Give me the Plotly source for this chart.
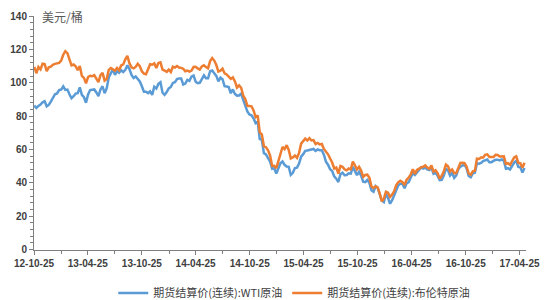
import pandas as pd
import plotly.graph_objects as go

# Weekly (Friday) settlement prices, USD/barrel
wti_2012 = [86.3, 84.9, 86.1, 86.9, 88.3, 88.9, 85.9, 86.7, 88.7, 90.8]
wti_2013 = [93.1, 93.6, 95.6, 95.9, 97.8, 95.7, 95.9, 93.1, 90.7, 91.9, 93.5, 93.7, 97.2,
            92.7, 91.3, 88.0, 93.0, 95.6, 96.0, 96.0, 94.2, 92.0, 96.0, 97.9, 93.7, 96.6,
            103.2, 105.9, 108.1, 104.7, 106.9, 106.0, 107.5, 106.4, 107.7, 110.5, 108.2, 104.7, 102.9,
            103.8, 102.0, 100.8, 97.9, 94.6, 94.6, 93.8, 94.8, 92.7, 97.6, 96.6, 99.3, 100.3]
wti_2014 = [94.0, 92.7, 94.4, 96.6, 97.5, 99.9, 100.3, 102.2, 102.6, 102.6, 98.9, 99.5, 101.7,
            101.1, 103.7, 104.3, 100.6, 99.8, 100.0, 102.0, 104.4, 102.7, 102.7, 106.9, 107.3, 105.7,
            104.1, 100.8, 103.1, 102.1, 97.9, 97.7, 97.4, 93.7, 96.0, 93.3, 92.3, 92.4, 93.5,
            89.7, 85.8, 82.8, 81.0, 80.5, 78.7, 75.8, 76.5, 66.2, 65.8, 57.8, 57.1, 54.7]
wti_2015 = [52.7, 48.4, 48.7, 45.6, 48.2, 51.7, 52.8, 50.8, 49.8, 49.6, 44.8, 46.0, 48.9,
            49.1, 51.6, 55.7, 57.2, 59.2, 59.4, 59.7, 59.7, 60.3, 59.1, 60.0, 59.6, 59.6,
            56.9, 52.7, 50.9, 48.1, 47.1, 43.9, 42.5, 40.5, 45.2, 46.1, 44.6, 44.7, 45.7,
            45.5, 49.6, 47.3, 44.6, 46.6, 44.3, 40.7, 40.4, 41.7, 40.0, 35.6, 34.7, 38.1]
wti_2016 = [37.0, 33.2, 29.4, 28.5, 33.6, 30.9, 27.5, 29.6, 32.8, 35.9, 38.5, 39.4, 39.5,
            36.8, 39.7, 40.4, 43.7, 45.9, 44.7, 46.2, 47.8, 49.3, 48.6, 49.1, 48.0, 47.6,
            49.0, 45.4, 46.0, 44.2, 41.6, 41.8, 44.5, 48.5, 47.6, 44.4, 45.9, 43.0, 44.5, 48.2,
            49.8, 50.4, 50.9, 48.7, 44.1, 43.4, 45.7, 46.1, 51.7, 51.5, 51.9, 53.0, 53.7]
wti_2017 = [54.0, 52.4, 52.4, 53.2, 53.8, 53.9, 53.4, 54.0, 53.3, 48.5, 48.8, 48.0, 50.6,
            52.2, 53.2, 49.6, 49.3, 46.2, 48.9]

brent_2012 = [109.5, 105.7, 109.4, 108.0, 111.4, 111.2, 107.0, 109.2, 109.6, 110.8]
brent_2013 = [111.3, 111.6, 111.9, 113.3, 116.8, 118.9, 117.7, 114.0, 110.4, 110.9, 109.8, 107.6, 110.0,
              104.1, 102.9, 99.7, 103.4, 104.2, 103.9, 104.6, 102.6, 100.4, 104.6, 105.9, 101.3, 102.2,
              107.7, 108.8, 108.1, 107.2, 108.9, 107.5, 110.4, 111.0, 114.0, 116.1, 111.7, 109.2, 108.6,
              109.5, 111.3, 109.9, 106.9, 105.5, 105.1, 108.5, 111.1, 110.8, 111.6, 108.8, 111.8, 112.2]
brent_2014 = [107.9, 107.3, 106.5, 107.9, 106.4, 109.6, 109.1, 110.0, 109.1, 108.9, 108.4, 106.9, 107.3,
              106.7, 107.3, 109.5, 109.6, 108.6, 107.9, 109.8, 110.5, 109.4, 108.6, 113.0, 114.8, 113.3,
              110.6, 106.7, 107.2, 108.4, 105.6, 105.0, 103.5, 102.3, 103.2, 100.8, 97.1, 98.4, 97.0,
              92.3, 90.2, 86.2, 86.1, 85.9, 83.4, 79.4, 80.4, 70.2, 69.1, 61.9, 61.4, 59.5]
brent_2015 = [56.4, 50.1, 50.2, 48.8, 53.0, 57.8, 61.5, 60.2, 62.6, 59.7, 54.7, 55.3, 56.4,
              55.0, 57.9, 63.5, 65.3, 66.5, 65.4, 66.8, 65.4, 65.6, 63.3, 63.9, 63.0, 63.3,
              60.3, 58.7, 57.1, 54.6, 52.2, 48.6, 49.2, 45.5, 50.1, 49.6, 48.1, 47.5, 48.6,
              48.1, 52.7, 50.5, 48.0, 49.6, 47.4, 43.6, 44.7, 44.9, 43.0, 37.9, 36.9, 37.9]
brent_2016 = [37.3, 33.6, 28.9, 30.5, 34.7, 34.1, 31.5, 33.0, 35.1, 38.7, 40.4, 41.2, 40.4,
              38.7, 41.9, 43.1, 45.1, 48.1, 45.4, 47.8, 48.7, 49.3, 49.6, 50.5, 49.2, 48.4,
              50.4, 46.8, 47.6, 45.7, 42.5, 44.3, 47.0, 50.9, 49.9, 46.8, 48.0, 45.8, 45.9, 49.2,
              51.9, 52.0, 51.8, 49.7, 45.6, 44.8, 46.9, 47.2, 54.5, 54.3, 55.2, 55.2, 56.8]
brent_2017 = [57.1, 55.5, 55.5, 55.5, 56.8, 56.7, 55.8, 56.0, 55.9, 51.4, 51.8, 50.8, 52.8,
              55.2, 55.9, 52.0, 51.7, 49.1, 52.0]

wti = wti_2012 + wti_2013 + wti_2014 + wti_2015 + wti_2016 + wti_2017
brent = brent_2012 + brent_2013 + brent_2014 + brent_2015 + brent_2016 + brent_2017
dates = pd.date_range("2012-10-26", "2017-05-12", freq="W-FRI")
n = min(len(dates), len(wti), len(brent))
dates = dates[:n]
wti = wti[:n]
brent = brent[:n]

name_wti = "期货结算价(连续):WTI原油"
name_brent = "期货结算价(连续):布伦特原油"
tick_vals = ["2012-10-25", "2013-04-25", "2013-10-25", "2014-04-25", "2014-10-25",
             "2015-04-25", "2015-10-25", "2016-04-25", "2016-10-25", "2017-04-25"]
tick_text = ["12-10-25", "13-04-25", "13-10-25", "14-04-25", "14-10-25",
             "15-04-25", "15-10-25", "16-04-25", "16-10-25", "17-04-25"]

fig = go.Figure()
fig.add_trace(go.Scatter(x=dates, y=wti, mode="lines", name=name_wti,
                         line=dict(color="#5B9BD5", width=2.5)))
fig.add_trace(go.Scatter(x=dates, y=brent, mode="lines", name=name_brent,
                         line=dict(color="#ED7D31", width=2.5)))

axis_font = dict(family="Liberation Sans, Arial, sans-serif", size=10, color="#404040", weight="bold")
fig.update_layout(
    width=550, height=300,
    margin=dict(l=34, r=10, t=10, b=46),
    paper_bgcolor="white", plot_bgcolor="white",
    showlegend=True,
    legend=dict(orientation="h", x=0.535, xanchor="center", xref="container",
                y=0.023, yanchor="middle", yref="container",
                font=dict(family="Noto Sans CJK SC", size=11, color="#404040"),
                itemwidth=30, tracegroupgap=0, bgcolor="rgba(0,0,0,0)"),
    xaxis=dict(range=["2012-10-25", "2017-05-17"], showgrid=False, zeroline=False,
               showline=True, linecolor="#7f7f7f", linewidth=1,
               tickmode="array", tickvals=tick_vals, ticktext=tick_text,
               ticks="outside", ticklen=4, tickcolor="#7f7f7f",
               ticklabeloverflow="allow",
               minor=dict(ticks="outside", ticklen=3, tickcolor="#7f7f7f",
                          tick0="2012-10-25", dtick="M3"),
               tickfont=axis_font),
    yaxis=dict(range=[0, 140], showgrid=False, zeroline=False,
               showline=True, linecolor="#7f7f7f", linewidth=1,
               tick0=0, dtick=20, ticks="outside", ticklen=4, tickcolor="#7f7f7f",
               minor=dict(ticks="outside", ticklen=3, tickcolor="#7f7f7f", dtick=4),
               tickfont=axis_font),
    annotations=[dict(text="美元/桶", xref="paper", yref="paper", x=0.012, y=1.0,
                      xanchor="left", yanchor="middle", showarrow=False,
                      font=dict(family="Noto Sans CJK SC", size=12, color="#595959"))],
)

fig.write_html("out.html")
